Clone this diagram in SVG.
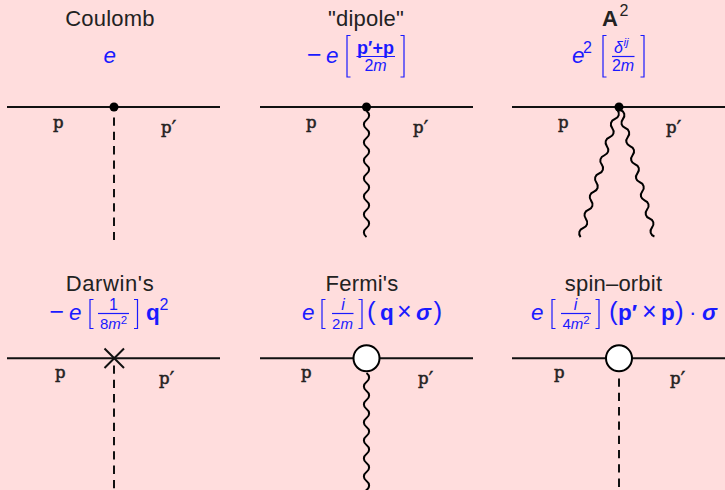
<svg xmlns="http://www.w3.org/2000/svg" width="725" height="490" viewBox="0 0 725 490">
<style>
.t{font-family:"Liberation Sans",Arial,sans-serif;font-size:22px;fill:#222;text-anchor:middle;letter-spacing:.2px}
.m{font-family:"Liberation Sans",Arial,sans-serif;font-size:22.500px;fill:#1a1aff}
.i{font-style:italic}
.b{font-weight:bold}
.s{font-size:16px}
.n{font-size:15px}
.u{font-size:11.500px}
.p{font-size:26px}
.f{text-anchor:middle}
.l{font-family:"DejaVu Serif",serif;font-size:16.500px;fill:#222;stroke:#222;stroke-width:.5}
.pr{font-family:"DejaVu Sans",sans-serif;font-size:22px;stroke-width:.3}
.line{stroke:#111;stroke-width:2;fill:none}
.dash{stroke:#111;stroke-width:2;fill:none;stroke-dasharray:8.300 6}
.wave{stroke:#000;stroke-width:2;fill:none}
.br{stroke:#1a1aff;stroke-width:1.2;fill:none}
.bar{stroke:#1a1aff;stroke-width:1.2;fill:none}
.blob{fill:#fff;stroke:#000;stroke-width:2}
</style>
<defs>
<path id="w" class="wave" d="M0 0c3.500 2.500 3.500 6.500 0 9s-3.500 6.500 0 9s3.500 6.500 0 9s-3.500 6.500 0 9s3.500 6.500 0 9s-3.500 6.500 0 9s3.500 6.500 0 9s-3.500 6.500 0 9s3.500 6.500 0 9s-3.500 6.500 0 9s3.500 6.500 0 9s-3.500 6.500 0 9s3.500 6.500 0 9s-3.500 6.500 0 9"/>
</defs>
<rect width="725" height="490" fill="#ffdddd"/>
<g id="connectors">
<path class="line" d="M7 107H220M260 107H473M512 107H725M7 358.300H220M260 358.300H473M512 358.300H725"/>
<path class="dash" d="M114 117.500V240"/>
<use href="#w" x="366.500" y="111"/>
<use href="#w" transform="translate(617.500 110) rotate(16.200) scale(1 1.050)"/>
<use href="#w" transform="translate(620.500 110) rotate(-15) scale(1 1.040)"/>
<path class="dash" d="M114 365.500V490"/>
<use href="#w" x="366.500" y="373"/>
<path class="dash" d="M619 378.500V490"/>
</g>
<g id="coulomb">
<text class="t" x="110" y="26">Coulomb</text>
<text class="m i" x="103.500" y="63">e</text>
<circle cx="114" cy="107" r="4.500"/>
<text class="l" x="53" y="127.500">p</text><text class="l" x="161" y="133">p<tspan class="pr" dy="3">′</tspan></text>
</g>
<g id="dipole">
<text class="t" x="366" y="26">"dipole"</text>
<text class="m" x="307" y="63" style="font-size:25px">−</text><text class="m i" x="326" y="63">e</text>
<path class="br" d="M350.500 35.500H347V77H350.500M400.500 35.500H404V77H400.500"/>
<text class="m b f" x="375.500" y="54" style="font-size:18px">p′+p</text>
<path class="bar" d="M356.500 56.500H395"/>
<text class="m s f" x="375.500" y="71">2<tspan class="i">m</tspan></text>
<circle cx="366.500" cy="107" r="4.500"/>
<text class="l" x="306" y="127.500">p</text><text class="l" x="413" y="133">p<tspan class="pr" dy="3">′</tspan></text>
</g>
<g id="a-squared">
<text class="t b" x="610" y="26">A</text><text class="m s" x="619.500" y="16" style="fill:#222">2</text>
<text class="m i" x="572" y="63">e</text><text class="m s" x="583" y="52.500">2</text>
<path class="br" d="M606.500 35.500H603V77H606.500M640.500 35.500H644V77H640.500"/>
<text class="m s i" x="614" y="53">δ</text><text class="m i u" x="623.500" y="46">ij</text>
<path class="bar" d="M612 56.500H634.500"/>
<text class="m s f" x="623" y="71">2<tspan class="i">m</tspan></text>
<circle cx="619" cy="107" r="4.500"/>
<text class="l" x="558" y="127.500">p</text><text class="l" x="666" y="133">p<tspan class="pr" dy="3">′</tspan></text>
</g>
<g id="darwin">
<text class="t" x="110" y="291" style="letter-spacing:.6px">Darwin's</text>
<text class="m" x="49.500" y="320" style="font-size:25px">−</text><text class="m i" x="69" y="320">e</text>
<path class="br" d="M93.500 299.500H90V328.500H93.500M134 299.500H137.500V328.500H134"/>
<text class="m s f" x="113.500" y="310">1</text>
<path class="bar" d="M98 313.500H129"/>
<text class="m n f" x="113.500" y="329">8<tspan class="i">m</tspan><tspan dy="-5" class="u">2</tspan></text>
<text class="m b" x="146" y="320">q</text><text class="m s" x="159.500" y="310">2</text>
<path class="line" d="M104.500 348.500L124 368M124 348.500L104.500 368"/>
<text class="l" x="55" y="378">p</text><text class="l" x="159" y="383.500">p<tspan class="pr" dy="3">′</tspan></text>
</g>
<g id="fermi">
<text class="t" x="362" y="291">Fermi's</text>
<text class="m i" x="302" y="320">e</text>
<path class="br" d="M325.500 299.500H322V328.500H325.500M358.500 299.500H362V328.500H358.500"/>
<text class="m s i f" x="343" y="310">i</text>
<path class="bar" d="M332 313.500H353.500"/>
<text class="m n f" x="342.500" y="329">2<tspan class="i">m</tspan></text>
<text class="m p" x="367" y="320">(</text>
<text class="m b" x="380" y="320">q</text>
<text class="m" x="397" y="320" style="font-size:25px">×</text>
<text class="m b i" x="416" y="320">σ</text>
<text class="m p" x="433.500" y="320">)</text>
<circle class="blob" cx="366.500" cy="358.300" r="13"/>
<text class="l" x="301" y="378">p</text><text class="l" x="418" y="383.500">p<tspan class="pr" dy="3">′</tspan></text>
</g>
<g id="spin-orbit">
<text class="t" x="613.500" y="291">spin–orbit</text>
<text class="m i" x="531" y="320">e</text>
<path class="br" d="M555.500 299.500H552V328.500H555.500M595.500 299.500H599V328.500H595.500"/>
<text class="m s i f" x="575.500" y="310">i</text>
<path class="bar" d="M561 313.500H591"/>
<text class="m n f" x="576" y="329">4<tspan class="i">m</tspan><tspan dy="-5" class="u">2</tspan></text>
<text class="m p" x="609" y="320">(</text>
<text class="m b" x="618" y="320">p′</text>
<text class="m" x="642" y="320" style="font-size:25px">×</text>
<text class="m b" x="661" y="320">p</text>
<text class="m p" x="675" y="320">)</text>
<text class="m" x="689" y="320">·</text>
<text class="m b i" x="702" y="320">σ</text>
<circle class="blob" cx="619" cy="358.300" r="13"/>
<text class="l" x="554" y="378">p</text><text class="l" x="670" y="383.500">p<tspan class="pr" dy="3">′</tspan></text>
</g>
</svg>
